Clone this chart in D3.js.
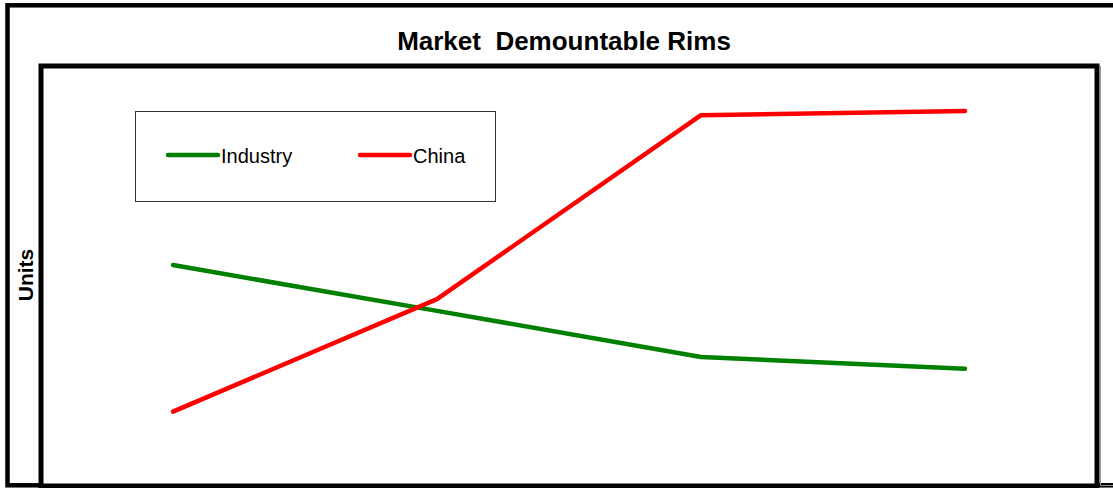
<!DOCTYPE html>
<html>
<head>
<meta charset="utf-8">
<script src="https://cdn.jsdelivr.net/npm/d3@7"></script>
<style>
  body { margin: 0; background: #fff; }
  svg { display: block; font-family: "Liberation Sans", Arial, sans-serif; }
</style>
</head>
<body>
<div id="chart"></div>
<script>
// Data (periods are not labelled on the chart)
const periods = ["P1", "P2", "P3", "P4"];
const industry = [526, 417, 307, 279];
const china = [177, 445, 883, 893];
const seriesNames = ["Industry", "China"];
const seriesColors = ["#008000", "#ff0000"];

const fullWidth = 1113,
    fullHeight = 488;

// Plot frame edges
const plot = { left: 41, right: 1097, top: 66, bottom: 486 };

const svg = d3.select("#chart")
    .append("svg")
    .attr("width", fullWidth)
    .attr("height", fullHeight);

// Outer chart border
svg.append("rect")
    .attr("x", 7.5)
    .attr("y", 5.3)
    .attr("width", 1120)
    .attr("height", 480)
    .attr("fill", "#fff")
    .attr("stroke", "#000")
    .attr("stroke-width", 4.5);

// faint grey edge to the right of the plot frame
svg.append("path")
    .attr("d", "M1100.5,66 V485.5 H1113")
    .attr("fill", "none")
    .attr("stroke", "#999")
    .attr("stroke-width", 1);

// Title
svg.append("text")
    .attr("x", 564)
    .attr("y", 50)
    .attr("text-anchor", "middle")
    .style("white-space", "pre")
    .style("font-size", "26px")
    .style("font-weight", "bold")
    .text("Market  Demountable Rims");

// Plot area frame
svg.append("rect")
    .attr("x", plot.left)
    .attr("y", plot.top)
    .attr("width", plot.right - plot.left)
    .attr("height", plot.bottom - plot.top)
    .attr("fill", "#fff")
    .attr("stroke", "#000")
    .attr("stroke-width", 5);

// Y axis label
svg.append("text")
    .attr("transform", "rotate(-90)")
    .attr("x", -275)
    .attr("y", 33)
    .attr("text-anchor", "middle")
    .style("font-size", "21px")
    .style("font-weight", "bold")
    .text("Units");

// Scales
const x = d3.scaleBand()
    .domain(periods)
    .range([plot.left, plot.right]);

const y = d3.scaleLinear()
    .domain([0, 1000])
    .range([plot.bottom, plot.top]);

const line = d3.line()
    .x((d, i) => x(periods[i]) + x.bandwidth() / 2)
    .y(d => y(d));

// Lines
svg.selectAll(".series")
    .data([industry, china])
    .join("path")
    .attr("class", "series")
    .attr("d", line)
    .attr("fill", "none")
    .attr("stroke", (d, i) => seriesColors[i])
    .attr("stroke-width", 4.5)
    .attr("stroke-linecap", "round")
    .attr("stroke-linejoin", "round");

// Legend
svg.append("rect")
    .attr("x", 135.5)
    .attr("y", 111.5)
    .attr("width", 360)
    .attr("height", 90)
    .attr("fill", "#fff")
    .attr("stroke", "#333")
    .attr("stroke-width", 1);

const legendX = [168, 360];
const legend = svg.selectAll(".legend-item")
    .data(seriesNames)
    .join("g")
    .attr("class", "legend-item")
    .attr("transform", (d, i) => `translate(${legendX[i]},155)`);

legend.append("line")
    .attr("x1", 0)
    .attr("x2", 50)
    .attr("y1", 0)
    .attr("y2", 0)
    .attr("stroke", (d, i) => seriesColors[i])
    .attr("stroke-width", 4.5)
    .attr("stroke-linecap", "round");

legend.append("text")
    .attr("x", 53)
    .attr("y", 8)
    .style("font-size", "20px")
    .text(d => d);
</script>
</body>
</html>
